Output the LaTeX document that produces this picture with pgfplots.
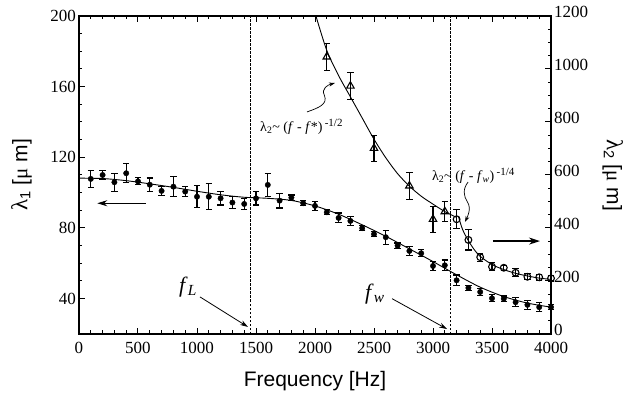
\documentclass[border=0pt]{standalone}
\usepackage{fontspec}
\setmainfont{Liberation Serif}
\setsansfont{Liberation Sans}
\usepackage{pgfplots}
\usepackage{pgfplotstable}
\pgfplotsset{compat=1.18}
\usetikzlibrary{arrows.meta}

\pgfplotstableread{
f l e
100 107.8 5
200 110 2.5
300 105.9 5
400 111 5.3
500 106.4 2
600 104.5 3.8
700 101 2.4
800 103.4 5.8
900 100.6 2.8
1000 97.7 6.3
1100 97.7 7.4
1200 96.8 3.8
1300 94.4 3.3
1400 93.6 3.1
1500 96.8 3.8
1600 104.4 6.6
1700 95.5 4.2
1800 97.2 1.5
1900 94 1.5
2000 92.5 2.6
2100 88.9 1.5
2200 85.7 2.8
2300 84 2.4
2400 79.9 1.5
2500 76.5 1.5
2600 74.8 4
2700 70 1.5
2800 67 2.5
2900 65.7 2
3000 58.5 2.5
3100 58.9 3
3200 50.4 3
3300 46.1 1.5
3400 43.8 2
3500 40.2 2
3600 40.0 1.5
3700 38 2.5
3800 36.5 2.5
3900 35.2 2.5
4000 35.2 1.5
}\lone

\pgfplotstableread{
f l
0 108.2
200 108
400 106.8
600 105
800 103
1000 100.8
1200 98.8
1400 97.4
1600 96.8
1800 95.6
2000 92.5
2200 87.8
2400 81.8
2600 75.3
2800 68.2
3000 61
3200 53.5
3400 46.5
3600 41.2
3800 37.5
4000 35.2
}\lonefit

\pgfplotstableread{
f l e
2100 1046 50
2300 936 50
2500 701 49
2800 559 50
3000 433 49
3100 462 38
}\ltri

\pgfplotstableread{
f l e
3200 433 36
3300 355 38
3400 290 15
3500 254 15
3600 250 10
3700 231 15
3800 216 12
3900 214 12
4000 210 10
}\lcirc

\pgfplotstableread{
f l
2008 1200
2100 1070
2200 975
2300 895
2400 815
2500 735
2600 665
2700 605
2800 558
2900 520
3000 490
3100 462
3200 440
}\fitA

\pgfplotstableread{
f l
3215 445
3250 395
3300 352
3350 318
3400 293
3500 262
3600 243
3700 229
3800 219
3900 211
4000 206
}\fitB

\begin{document}
\begin{tikzpicture}
\pgfplotsset{
  base/.style={
    scale only axis, width=472pt, height=318pt,
    xmin=0, xmax=4000,
    tick align=inside,
    major tick length=6pt, minor tick length=3.5pt,
    axis line style={line width=1.4pt},
    every tick/.style={line width=1pt, black},
    tick label style={font=\fontsize{17}{17}\selectfont, inner sep=1pt},
    /pgf/number format/assume math mode=true,
    /pgf/number format/1000 sep={},
    clip=false,
  },
  ebar/.style={error bars/.cd, y dir=both, y explicit,
    error bar style={line width=1.1pt},
    error mark options={rotate=90, mark size=3.2pt, line width=1.1pt}},
}
\begin{axis}[base, name=main,
  ymin=20, ymax=200,
  xtick={0,500,...,4000}, minor x tick num=4,
  ytick={40,80,...,200}, minor y tick num=3,
  xtick pos=both, ytick pos=left,
  xticklabel style={yshift=-7pt},
  yticklabel style={xshift=-2pt},
  xlabel={Frequency [Hz]},
  ylabel={{\rmfamily\fontsize{23}{23}\selectfont λ}\textsubscript{1} [{\rmfamily μ} m]},
  every axis x label/.style={at={(axis description cs:0.5,-0.148)}, anchor=center, font=\sffamily\fontsize{21}{21}\selectfont},
  every axis y label/.style={at={(axis description cs:-0.122,0.5)}, anchor=center, rotate=90, font=\sffamily\fontsize{21}{21}\selectfont},
]
\draw[line width=1.2pt, dash pattern=on 2.5pt off 1.5pt] (axis cs:1450,20) -- (axis cs:1450,200);
\draw[line width=1.2pt, dash pattern=on 2.5pt off 1.5pt] (axis cs:3150,20) -- (axis cs:3150,200);
\addplot[black, line width=0.9pt, smooth] table[x=f, y=l] {\lonefit};
\addplot[black, only marks, mark=*, mark size=2.7pt, ebar]
  table[x=f, y=l, y error=e] {\lone};
% annotations
\draw[line width=0.8pt, -{Stealth[length=10pt,width=6pt]}] (axis cs:565,94) -- (axis cs:155,94);
\draw[line width=1.8pt, -{Stealth[length=11pt,width=7pt]}] (axis cs:3508,72.6) -- (axis cs:3907,72.6);
\node[font=\fontsize{22}{22}\selectfont] at (axis cs:924,46.6) {\textit{f}\textsubscript{\textit{L}}};
\node[font=\fontsize{22}{22}\selectfont] at (axis cs:2508,42.6) {\textit{f}\textsubscript{\textit{w}}};
\draw[line width=0.8pt, -{Stealth[length=8pt,width=5pt]}] (axis cs:1025,41) -- (axis cs:1432,24);
\draw[line width=0.8pt, -{Stealth[length=8pt,width=5pt]}] (axis cs:2653,40) -- (axis cs:3119,22.8);
\node[anchor=west, inner sep=0pt, font=\fontsize{14}{14}\selectfont] at (axis cs:1534,137.2)
  {λ\textsubscript{2}\textasciitilde\ (\textit{f} - \textit{f}*)\,\raisebox{4.5pt}{\fontsize{11}{11}\selectfont -1/2}};
\node[anchor=west, inner sep=0pt, font=\fontsize{14}{14}\selectfont] at (axis cs:2990,109.4)
  {λ\textsubscript{2}\textasciitilde\ (\textit{f} - \textit{f}\textsubscript{\textit{w}})\,\raisebox{4.5pt}{\fontsize{11}{11}\selectfont -1/4}};
\draw[line width=0.7pt, -{Stealth[length=6pt,width=4pt]}]
  (axis cs:1932,145.7) .. controls (axis cs:2030,148) and (axis cs:2110,150) .. (axis cs:2080,155)
  .. controls (axis cs:2050,159) and (axis cs:2110,161) .. (axis cs:2169,162.1);
\draw[line width=0.7pt, -{Stealth[length=6pt,width=4pt]}]
  (axis cs:3297,106) .. controls (axis cs:3250,102) and (axis cs:3260,98) .. (axis cs:3290,95)
  .. controls (axis cs:3330,91) and (axis cs:3290,86) .. (axis cs:3271,83.4);
\end{axis}
\begin{axis}[base,
  ymin=0, ymax=1200,
  axis x line=none, axis y line*=right,
  ytick={0,200,...,1200}, minor y tick num=3,
  yticklabel style={yshift=4pt, xshift=2pt},
  ylabel={{\rmfamily\fontsize{23}{23}\selectfont λ}\textsubscript{2} [{\rmfamily μ} m]},
  every axis y label/.style={at={(axis description cs:1.131,0.5)}, anchor=center, rotate=-90, font=\sffamily\fontsize{21}{21}\selectfont},
]
\addplot[black, line width=0.9pt, smooth] table[x=f, y=l] {\fitA};
\addplot[black, line width=0.9pt, smooth] table[x=f, y=l] {\fitB};
\addplot[black, only marks, mark=triangle, mark size=4.3pt, mark options={fill=white, line width=1.1pt}, ebar]
  table[x=f, y=l, y error=e] {\ltri};
\addplot[black, only marks, mark=o, mark size=3.4pt, mark options={fill=white, line width=1.1pt}, ebar]
  table[x=f, y=l, y error=e] {\lcirc};
\end{axis}
\pgfresetboundingbox
\path ([xshift=-79pt,yshift=-59pt]main.south west) rectangle ([xshift=75pt,yshift=16pt]main.north east);
\end{tikzpicture}
\end{document}
